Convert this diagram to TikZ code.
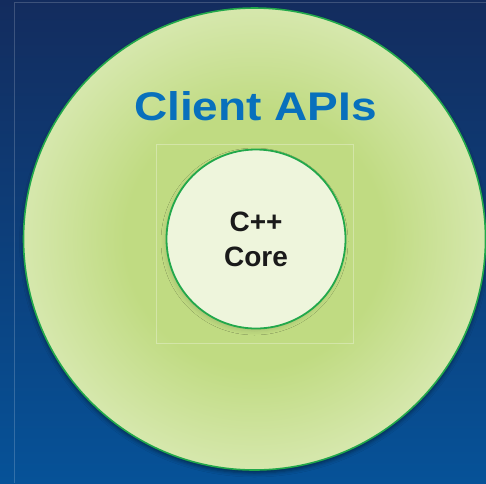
\documentclass[tikz,border=0pt]{standalone}
\usepackage{fontspec}
\setmainfont{Liberation Sans}
\usetikzlibrary{shadows.blur}
\definecolor{bgtop}{RGB}{19,44,94}
\definecolor{bgbot}{RGB}{6,82,152}
\definecolor{ringgreen}{RGB}{34,168,75}
\definecolor{corefill}{RGB}{238,245,220}
\definecolor{gmid}{RGB}{192,219,130}
\definecolor{gedge}{RGB}{234,243,212}
\definecolor{apiblue}{RGB}{8,112,188}
\definecolor{coretext}{RGB}{26,26,26}
\pgfdeclareradialshading{apishade}{\pgfpoint{0bp}{0bp}}{color(0bp)=(gmid); color(14bp)=(gmid); color(35bp)=(gedge); color(50bp)=(gedge)}
\tikzset{
  outerring/.style={circle, draw=ringgreen, line width=1.6pt, shading=apishade, minimum size=462pt, inner sep=0pt,
    blur shadow={shadow xshift=0pt, shadow yshift=-3pt, shadow blur radius=4pt, shadow opacity=45}},
  corecircle/.style={circle, draw=ringgreen, line width=1.8pt, fill=corefill, minimum size=179pt, inner sep=0pt,
    align=center, text=coretext, font=\bfseries\fontsize{28}{35}\selectfont,
    blur shadow={shadow xshift=-1.5pt, shadow yshift=-2.5pt, shadow blur radius=4pt, shadow opacity=12}},
  apilabel/.style={text=apiblue, font=\bfseries\fontsize{40}{40}\selectfont, inner sep=0pt},
  faint/.style={draw=white, draw opacity=0.18, line width=0.6pt}
}
\begin{document}
\begin{tikzpicture}[x=1pt,y=-1pt]
  \useasboundingbox (0,0) rectangle (486,483);
  \shade[top color=bgtop, bottom color=bgbot] (0,0) rectangle (486,483);
  \draw[faint] (14.5,483) -- (14.5,2.5) -- (486,2.5);
  \node[outerring] (apis) at (254.5,239) {};
  \draw[faint, draw opacity=0.3] (156,144) rectangle (353,343);
  \node[apilabel, anchor=base] (apilbl) at (255.5,120.5) {\scalebox{1.15}[1]{Client APIs}};
  \node[corecircle] (core) at (256,239) {C++\\Core};
\end{tikzpicture}
\end{document}
